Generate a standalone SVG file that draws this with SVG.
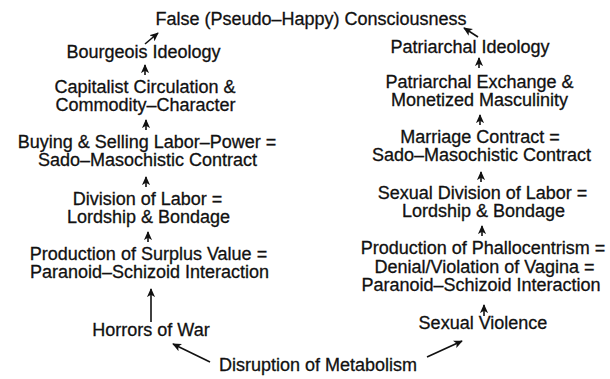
<svg xmlns="http://www.w3.org/2000/svg" width="610" height="379" viewBox="0 0 610 379">
<defs>
<style>
text{font-family:"Liberation Sans",Arial,sans-serif;font-size:18px;fill:#111;stroke:#111;stroke-width:0.3;text-anchor:middle}
.c line{stroke:#111;stroke-width:1.6}
</style>
<marker id="ah" viewBox="0 0 10 10" refX="9" refY="5" markerWidth="9" markerHeight="9" markerUnits="userSpaceOnUse" orient="auto"><path d="M0,0.5 L10,5 L0,9.5 L2.5,5 Z" fill="#111"/></marker>
</defs>
<rect width="610" height="379" fill="#fff"/>
<g id="n-false"><text x="311" y="25">False (Pseudo–Happy) Consciousness</text></g>
<g id="n-bourgeois"><text x="143.5" y="58">Bourgeois Ideology</text></g>
<g id="n-capitalist"><text x="145" y="93">Capitalist Circulation &amp;</text><text x="145.5" y="111">Commodity–Character</text></g>
<g id="n-buying"><text x="147" y="148">Buying &amp; Selling Labor–Power =</text><text x="147.5" y="166">Sado–Masochistic Contract</text></g>
<g id="n-division"><text x="147.5" y="205">Division of Labor =</text><text x="148.5" y="223">Lordship &amp; Bondage</text></g>
<g id="n-surplus"><text x="148.5" y="260">Production of Surplus Value =</text><text x="149.5" y="278">Paranoid–Schizoid Interaction</text></g>
<g id="n-war"><text x="151" y="336">Horrors of War</text></g>
<g id="n-disruption"><text x="318" y="371">Disruption of Metabolism</text></g>
<g id="n-patriarchal"><text x="470" y="53">Patriarchal Ideology</text></g>
<g id="n-exchange"><text x="479.5" y="88">Patriarchal Exchange &amp;</text><text x="479.5" y="106">Monetized Masculinity</text></g>
<g id="n-marriage"><text x="480" y="143">Marriage Contract =</text><text x="481.5" y="161">Sado–Masochistic Contract</text></g>
<g id="n-sexdiv"><text x="482.5" y="199">Sexual Division of Labor =</text><text x="483.5" y="217">Lordship &amp; Bondage</text></g>
<g id="n-phallo"><text x="483" y="254">Production of Phallocentrism =</text><text x="484.5" y="273">Denial/Violation of Vagina =</text><text x="481" y="291">Paranoid–Schizoid Interaction</text></g>
<g id="n-sexviol"><text x="483" y="329">Sexual Violence</text></g>
<g class="c" id="connectors">
<line x1="145" y1="44" x2="158" y2="33" marker-end="url(#ah)"/>
<line x1="145" y1="75" x2="145" y2="65" marker-end="url(#ah)"/>
<line x1="146" y1="130" x2="146" y2="120" marker-end="url(#ah)"/>
<line x1="146" y1="187" x2="146" y2="177" marker-end="url(#ah)"/>
<line x1="148" y1="242" x2="148" y2="232" marker-end="url(#ah)"/>
<line x1="151" y1="322" x2="151" y2="289" marker-end="url(#ah)"/>
<line x1="210" y1="362" x2="173" y2="344" marker-end="url(#ah)"/>
<line x1="478" y1="37" x2="464" y2="28" marker-end="url(#ah)"/>
<line x1="479" y1="68" x2="479" y2="58" marker-end="url(#ah)"/>
<line x1="480" y1="125" x2="480" y2="115" marker-end="url(#ah)"/>
<line x1="481" y1="182" x2="481" y2="172" marker-end="url(#ah)"/>
<line x1="482" y1="236" x2="482" y2="226" marker-end="url(#ah)"/>
<line x1="484" y1="316" x2="484" y2="305" marker-end="url(#ah)"/>
<line x1="427" y1="357" x2="462" y2="341" marker-end="url(#ah)"/>
</g>
</svg>
